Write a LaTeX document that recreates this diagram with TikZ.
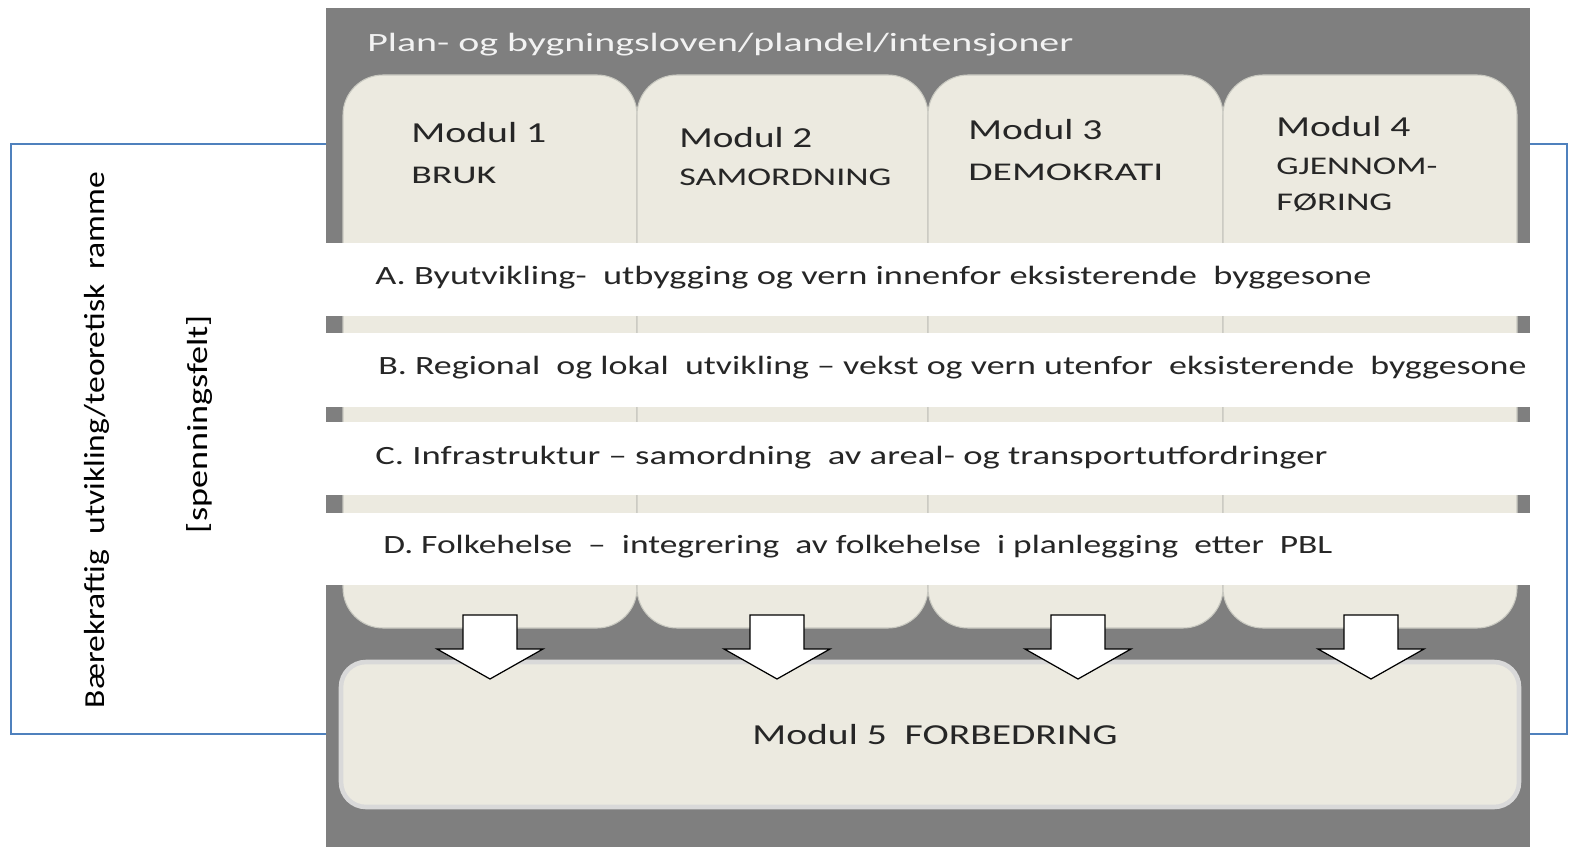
\documentclass[tikz,border=0pt]{standalone}
\usepackage{fontspec}
\setmainfont{Carlito}
\usepackage{graphicx}
\usetikzlibrary{fit}
\newdimen\pxu \pxu=0.02cm
\newcommand\hfit[2]{\resizebox{#1\pxu}{\height}{#2}}
\definecolor{pgray}{HTML}{7F7F7F}
\definecolor{beige}{HTML}{ECEAE0}
\definecolor{bordc}{HTML}{D9D9D9}
\definecolor{sepc}{HTML}{C8C8C0}
\definecolor{fblue}{HTML}{4F81BD}
\definecolor{txt}{HTML}{262626}
\tikzset{
  frame/.style={draw=fblue, line width=1.2pt},
  graybg/.style={fill=pgray, draw=none},
  tabst/.style={fill=beige, draw=sepc, line width=0.6pt, rounded corners=0.8cm, inner sep=0pt},
  band/.style={fill=white, draw=none, inner sep=0pt},
  mfive/.style={fill=beige, draw=bordc, line width=2.6pt, rounded corners=0.5cm, inner sep=0pt},
  arrowst/.style={fill=white, draw=black, line width=0.7pt, line join=miter},
  lbl/.style={anchor=west, inner sep=0pt, text=txt},
  modt/.style={lbl, font=\fontsize{16.5}{20}\selectfont},
  subt/.style={lbl, font=\fontsize{14.5}{18}\selectfont},
  bandt/.style={lbl, font=\fontsize{15}{19}\selectfont},
  titlet/.style={anchor=west, inner sep=0pt, text=white!95!black, font=\fontsize{15}{18}\selectfont},
  sidet/.style={rotate=90, inner sep=0pt, text=black, font=\fontsize{16.5}{20}\selectfont},
}
\newcommand\blockarrow[1]{%
  \draw[arrowst] (#1-27,615) -- (#1+27,615) -- (#1+27,649) -- (#1+53,649)
    -- (#1,679) -- (#1-53,649) -- (#1-27,649) -- cycle;}
\begin{document}
\begin{tikzpicture}[x=0.02cm, y=-0.02cm]
\useasboundingbox (0,0) rectangle (1571,847);
% outer blue frame
\node[frame, fit={(11,144) (1567,734)}, inner sep=0pt] (outer) {};
% gray background
\node[graybg, fit={(326,8) (1530,847)}, inner sep=0pt] (bg) {};
% module tabs
\node[tabst, fit={(343,75) (637,628)}] (t1) {};
\node[tabst, fit={(637,75) (928,628)}] (t2) {};
\node[tabst, fit={(928,75) (1223,628)}] (t3) {};
\node[tabst, fit={(1223,75) (1517,628)}] (t4) {};
% white bands
\node[band, fit={(326,243) (1530,316)}] (bA) {};
\node[band, fit={(326,333) (1530,407)}] (bB) {};
\node[band, fit={(326,422) (1530,495)}] (bC) {};
\node[band, fit={(326,513) (1530,585)}] (bD) {};
% module 5
\node[mfive, fit={(341,662) (1519,807)}] (m5) {};
% block arrows
\blockarrow{490}
\blockarrow{777}
\blockarrow{1078}
\blockarrow{1371}
% title
\node[titlet] (title) at (367,45) {\hfit{706}{Plan- og bygningsloven/plandel/intensjoner}};
% tab texts
\node[modt] (m1a) at (411,133) {\hfit{135}{Modul 1}};
\node[subt] (m1b) at (411,175) {\hfit{85}{BRUK}};
\node[modt] (m2a) at (679,138) {\hfit{133}{Modul 2}};
\node[subt] (m2b) at (679,177) {\hfit{212}{SAMORDNING}};
\node[modt] (m3a) at (968,130) {\hfit{134}{Modul 3}};
\node[subt] (m3b) at (968,172) {\hfit{195}{DEMOKRATI}};
\node[modt] (m4a) at (1276,127) {\hfit{134}{Modul 4}};
\node[subt] (m4b) at (1276,166) {\hfit{161}{GJENNOM-}};
\node[subt] (m4c) at (1276,203) {\hfit{116}{FØRING}};
% band texts
\node[bandt] (tA) at (375,278) {\hfit{996}{A.\ Byutvikling-\ \ utbygging og vern innenfor eksisterende\ \ byggesone}};
\node[bandt] (tB) at (378,368) {\hfit{1148}{B.\ Regional\ \ og lokal\ \ utvikling -- vekst og vern utenfor\ \ eksisterende\ \ byggesone}};
\node[bandt] (tC) at (375,458) {\hfit{952}{C.\ Infrastruktur -- samordning\ \ av areal- og transportutfordringer}};
\node[bandt] (tD) at (383,547) {\hfit{949}{D.\ Folkehelse\ \ --\ \ integrering\ \ av folkehelse\ \ i planlegging\ \ etter\ \ PBL}};
% module 5 text
\node[modt, anchor=center] (t5) at (935,735) {\hfit{365}{Modul 5\ \ FORBEDRING}};
% side texts
\node[sidet] (side1) at (97,440) {\hfit{536}{Bærekraftig\ \ utvikling/teoretisk\ \ ramme}};
\node[sidet] (side2) at (200,424) {\hfit{218}{[spenningsfelt]}};
\end{tikzpicture}
\end{document}
